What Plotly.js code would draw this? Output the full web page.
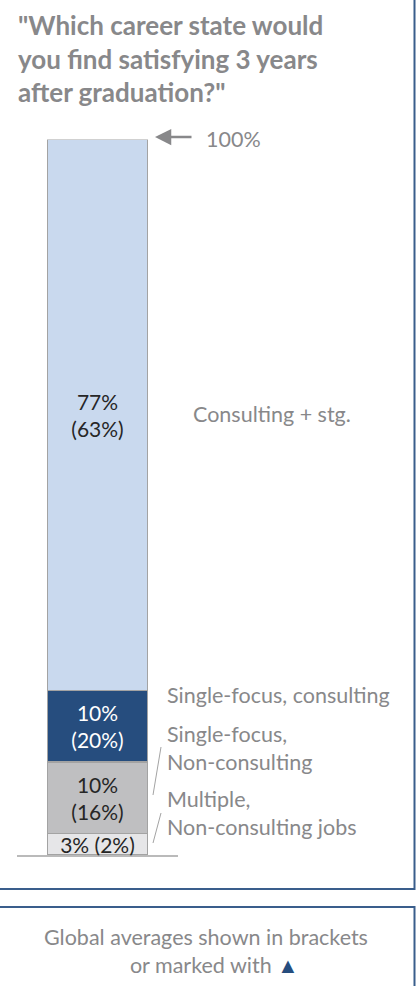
<!DOCTYPE html>
<html>
<head>
<meta charset="utf-8">
<script src="https://cdn.plot.ly/plotly-3.0.1.min.js"></script>
<style>html,body{margin:0;padding:0;background:#fff;}#chart{width:416px;height:986px;}</style>
</head>
<body>
<div id="chart"></div>
<script>
// Data (bottom to top of the stacked bar)
const segments = ["Multiple, Non-consulting jobs", "Single-focus, Non-consulting", "Single-focus, consulting", "Consulting + stg."];
const shares = [3, 10, 10, 77];          // % of respondents
const globalAverages = [2, 16, 20, 63];  // % global averages (in brackets)
const segmentColors = ["#e6e6e8", "#bfbfc1", "#264d7e", "#c9d9ee"];
const textColors = ["#262626", "#262626", "#ffffff", "#262626"];
const barCategory = ["Career state"];

const W = 416, H = 986;
const px = x => x / W;
const py = y => 1 - y / H;

const traces = segments.map((name, i) => ({
  type: "bar",
  name: name,
  x: barCategory,
  y: [shares[i]],
  width: 1,
  marker: {color: segmentColors[i], line: {color: "#a3a3a3", width: 1.5}},
  text: [i === 0 ? `${shares[i]}% (${globalAverages[i]}%)` : `${shares[i]}%<br>(${globalAverages[i]}%)`],
  textposition: "inside",
  insidetextanchor: "middle",
  textangle: 0,
  constraintext: "none",
  cliponaxis: false,
  textfont: {family: "Lato, 'Open Sans', sans-serif", size: 21, color: textColors[i]},
  hoverinfo: "skip"
}));

const gray = "#88888a";
const labelFont = {family: "Lato, 'Open Sans', sans-serif", size: 21.5, color: gray};
const titleFont = {family: "Lato, 'Open Sans', sans-serif", size: 26, color: gray, weight: "bold"};

const annotations = [
  // Title lines
  {text: "<b>\"Which career state would</b>", x: px(16), y: py(25)},
  {text: "<b>you find satisfying 3 years</b>", x: px(16), y: py(59)},
  {text: "<b>after graduation?\"</b>", x: px(16), y: py(92)},
].map(a => Object.assign({xref: "paper", yref: "paper", xanchor: "left", yanchor: "middle", showarrow: false, font: titleFont, align: "left"}, a));

// Segment labels (right side)
const segLabels = [
  {text: "Multiple,<br>Non-consulting jobs", x: px(165), y: py(813)},
  {text: "Single-focus,<br>Non-consulting", x: px(165), y: py(748)},
  {text: "Single-focus, consulting", x: px(165), y: py(695)},
  {text: "Consulting + stg.", x: px(191), y: py(414)}
];
segLabels.forEach(a => annotations.push(Object.assign({xref: "paper", yref: "paper", xanchor: "left", yanchor: "middle", showarrow: false, font: labelFont, align: "left"}, a)));

// 100% arrow
annotations.push({xref: "paper", yref: "paper", x: px(155), y: py(137), ax: 38, ay: 0, axref: "pixel", ayref: "pixel",
  text: "", showarrow: true, arrowhead: 2, arrowsize: 1.3, arrowwidth: 2.5, arrowcolor: gray});
annotations.push({xref: "paper", yref: "paper", x: px(204), y: py(139), xanchor: "left", yanchor: "middle", showarrow: false,
  text: "100%", font: labelFont});

// Footer note
annotations.push({xref: "paper", yref: "paper", x: px(206), y: py(951), xanchor: "center", yanchor: "middle", showarrow: false,
  text: "Global averages shown in brackets<br>   or marked with <span style=\"color:#264d7e\">▲</span>", font: labelFont, align: "center"});

const frameColor = "#3a5e8c";
const shapes = [
  {type: "rect", xref: "paper", yref: "paper", x0: px(-10), x1: px(414.5), y0: py(889), y1: py(-10), line: {color: frameColor, width: 2}},
  {type: "rect", xref: "paper", yref: "paper", x0: px(-10), x1: px(414.5), y0: py(1010), y1: py(907), line: {color: frameColor, width: 2}},
  {type: "line", xref: "paper", yref: "paper", x0: px(17), x1: px(178), y0: py(856), y1: py(856), line: {color: "#a3a3a3", width: 1.5}},
  {type: "line", xref: "paper", yref: "paper", x0: px(161), x1: px(153), y0: py(747), y1: py(795), line: {color: "#a3a3a3", width: 1}},
  {type: "line", xref: "paper", yref: "paper", x0: px(161), x1: px(153), y0: py(813), y1: py(843), line: {color: "#a3a3a3", width: 1}}
];

const layout = {
  width: W, height: H,
  margin: {l: 0, r: 0, t: 0, b: 0},
  paper_bgcolor: "#ffffff",
  plot_bgcolor: "rgba(0,0,0,0)",
  barmode: "stack",
  showlegend: false,
  xaxis: {type: "category", domain: [px(47), px(148)], range: [-0.5, 0.5], visible: false, fixedrange: true},
  yaxis: {domain: [py(855), py(139.5)], range: [0, 100], visible: false, fixedrange: true},
  annotations: annotations,
  shapes: shapes
};

Plotly.newPlot("chart", traces, layout, {displayModeBar: false, staticPlot: true});
</script>
</body>
</html>
